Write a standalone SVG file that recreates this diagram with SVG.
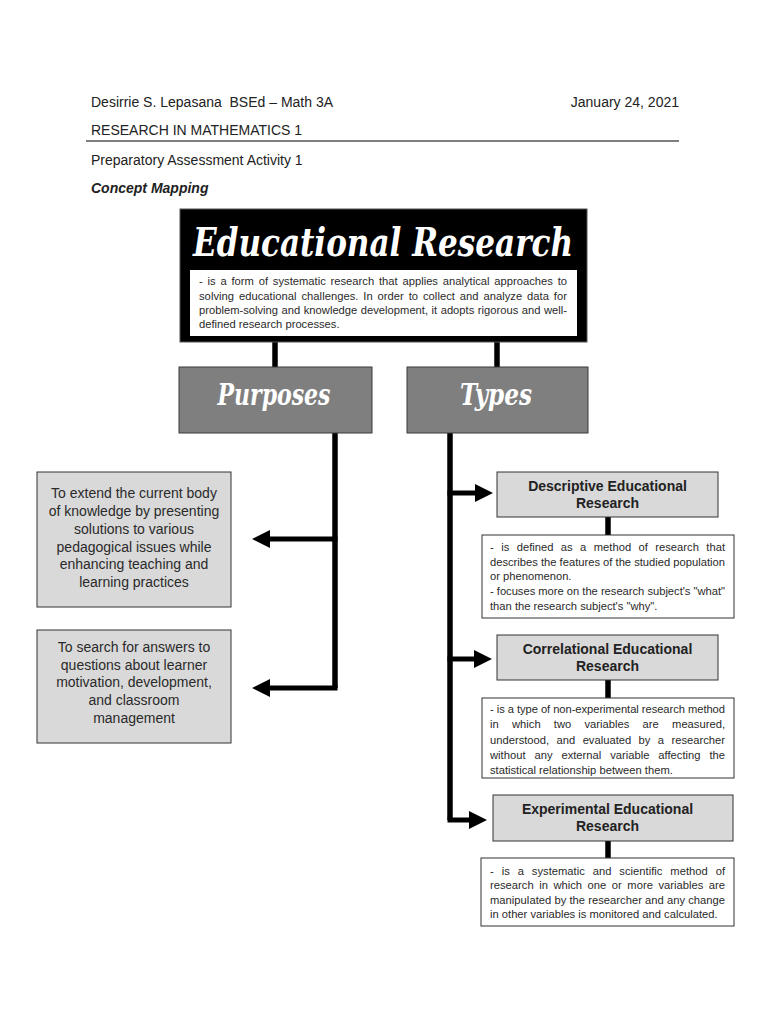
<svg xmlns="http://www.w3.org/2000/svg" width="768" height="1024" viewBox="0 0 768 1024">
<defs>
<style>
.hdr{font-family:"Liberation Sans",Arial,sans-serif;font-size:14px;fill:#222}
.script{font-family:"DejaVu Serif","Liberation Serif",serif;font-style:italic;font-weight:bold;fill:#fff}
.desc{font-family:"Liberation Sans",Arial,sans-serif;font-size:11.2px;fill:#2a2a2a}
.ptxt{font-family:"Liberation Sans",Arial,sans-serif;font-size:14px;fill:#2a2a2a;text-anchor:middle}
.ttl{font-family:"Liberation Sans",Arial,sans-serif;font-size:14px;font-weight:bold;fill:#222;text-anchor:middle}
.gray{fill:#7f7f7f;stroke:#3a3a3a;stroke-width:1}
.light{fill:#d9d9d9;stroke:#333;stroke-width:1}
.white{fill:#fff;stroke:#333;stroke-width:1}
.conn{fill:none;stroke:#000;stroke-width:5.5}
.arr{fill:none;stroke:#000;stroke-width:5;marker-end:url(#ah)}
</style>
<marker id="ah" viewBox="0 -9 18 18" refX="1" refY="0" markerWidth="18" markerHeight="18" markerUnits="userSpaceOnUse" orient="auto">
<path d="M0,-9 L18,0 L0,9 Z" fill="#000"/>
</marker>
</defs>
<rect width="768" height="1024" fill="#fff"/>

<g id="header">
<text class="hdr" x="91" y="107" xml:space="preserve">Desirrie S. Lepasana  BSEd – Math 3A</text>
<text class="hdr" x="679" y="107" text-anchor="end">January 24, 2021</text>
<text class="hdr" x="91" y="135">RESEARCH IN MATHEMATICS 1</text>
<line x1="86" y1="141" x2="679" y2="141" stroke="#555" stroke-width="1.5"/>
<text class="hdr" x="91" y="165">Preparatory Assessment Activity 1</text>
<text class="hdr" x="91" y="193" font-weight="bold" font-style="italic">Concept Mapping</text>
</g>

<g id="connectors">
<line class="conn" x1="275" y1="342" x2="275" y2="367"/>
<line class="conn" x1="497" y1="342" x2="497" y2="367"/>
<path class="conn" d="M335,433 V688"/>
<path class="arr" d="M337.5,539 H269"/>
<path class="arr" d="M337.5,688 H269"/>
<path class="conn" d="M450,433 V820"/>
<path class="arr" d="M447.5,493 H476"/>
<path class="arr" d="M447.5,659 H475"/>
<path class="arr" d="M447.5,820 H470"/>
<line class="conn" x1="608" y1="517" x2="608" y2="535"/>
<line class="conn" x1="608" y1="680" x2="608" y2="698"/>
<line class="conn" x1="608" y1="841" x2="608" y2="858"/>
</g>

<g id="educational-research">
<rect x="180" y="209" width="407" height="133" fill="#000" stroke="#555" stroke-width="1"/>
<text class="script" x="383" y="256" font-size="40" text-anchor="middle" textLength="380" lengthAdjust="spacingAndGlyphs">Educational Research</text>
<rect x="190" y="270" width="387" height="66" fill="#fff"/>
<text class="desc" x="199" y="285" word-spacing="1.7" textLength="368" lengthAdjust="spacing">- is a form of systematic research that applies analytical approaches to</text>
<text class="desc" x="199" y="299.5" word-spacing="1.7" textLength="368" lengthAdjust="spacing">solving educational challenges. In order to collect and analyze data for</text>
<text class="desc" x="199" y="314" word-spacing="0.4" textLength="368" lengthAdjust="spacing">problem-solving and knowledge development, it adopts rigorous and well-</text>
<text class="desc" x="199" y="328">defined research processes.</text>
</g>

<g id="purposes">
<rect class="gray" x="179" y="367" width="193" height="66"/>
<text class="script" x="274" y="405" font-size="30" text-anchor="middle" textLength="113" lengthAdjust="spacingAndGlyphs">Purposes</text>
</g>

<g id="types">
<rect class="gray" x="407" y="367" width="181" height="66"/>
<text class="script" x="496" y="405" font-size="30" text-anchor="middle" textLength="72" lengthAdjust="spacingAndGlyphs">Types</text>
</g>

<g id="purpose-1">
<rect class="light" x="37" y="472" width="194" height="135"/>
<text class="ptxt" x="134" y="498">To extend the current body</text>
<text class="ptxt" x="134" y="516">of knowledge by presenting</text>
<text class="ptxt" x="134" y="534">solutions to various</text>
<text class="ptxt" x="134" y="552">pedagogical issues while</text>
<text class="ptxt" x="134" y="569">enhancing teaching and</text>
<text class="ptxt" x="134" y="587">learning practices</text>
</g>

<g id="purpose-2">
<rect class="light" x="37" y="630" width="194" height="113"/>
<text class="ptxt" x="134" y="652">To search for answers to</text>
<text class="ptxt" x="134" y="669.5">questions about learner</text>
<text class="ptxt" x="134" y="687">motivation, development,</text>
<text class="ptxt" x="134" y="705">and classroom</text>
<text class="ptxt" x="134" y="722.5">management</text>
</g>

<g id="descriptive">
<rect class="light" x="497" y="472" width="221" height="45"/>
<text class="ttl" x="607.5" y="491">Descriptive Educational</text>
<text class="ttl" x="607.5" y="508">Research</text>
</g>
<g id="descriptive-desc">
<rect class="white" x="482" y="535" width="252" height="83"/>
<text class="desc" x="490" y="551" word-spacing="4.3" textLength="235" lengthAdjust="spacing">- is defined as a method of research that</text>
<text class="desc" x="490" y="565.5" textLength="235" lengthAdjust="spacing">describes the features of the studied population</text>
<text class="desc" x="490" y="580">or phenomenon.</text>
<text class="desc" x="490" y="595" textLength="235" lengthAdjust="spacing">- focuses more on the research subject's "what"</text>
<text class="desc" x="490" y="609.5">than the research subject's "why".</text>
</g>

<g id="correlational">
<rect class="light" x="497" y="635" width="221" height="45"/>
<text class="ttl" x="607.5" y="654">Correlational Educational</text>
<text class="ttl" x="607.5" y="671">Research</text>
</g>
<g id="correlational-desc">
<rect class="white" x="482" y="698" width="252" height="80"/>
<text class="desc" x="490" y="713" textLength="235" lengthAdjust="spacing">- is a type of non-experimental research method</text>
<text class="desc" x="490" y="728" word-spacing="10.1" textLength="235" lengthAdjust="spacing">in which two variables are measured,</text>
<text class="desc" x="490" y="743.5" word-spacing="4.3" textLength="235" lengthAdjust="spacing">understood, and evaluated by a researcher</text>
<text class="desc" x="490" y="758.5" word-spacing="5.8" textLength="235" lengthAdjust="spacing">without any external variable affecting the</text>
<text class="desc" x="490" y="774">statistical relationship between them.</text>
</g>

<g id="experimental">
<rect class="light" x="493" y="795" width="240" height="46"/>
<text class="ttl" x="607.5" y="814">Experimental Educational</text>
<text class="ttl" x="607.5" y="831">Research</text>
</g>
<g id="experimental-desc">
<rect class="white" x="481" y="858" width="253" height="68"/>
<text class="desc" x="490" y="874.5" word-spacing="4.8" textLength="235" lengthAdjust="spacing">- is a systematic and scientific method of</text>
<text class="desc" x="490" y="889" word-spacing="2.4" textLength="235" lengthAdjust="spacing">research in which one or more variables are</text>
<text class="desc" x="490" y="903.5" textLength="235" lengthAdjust="spacing">manipulated by the researcher and any change</text>
<text class="desc" x="490" y="918">in other variables is monitored and calculated.</text>
</g>
</svg>
